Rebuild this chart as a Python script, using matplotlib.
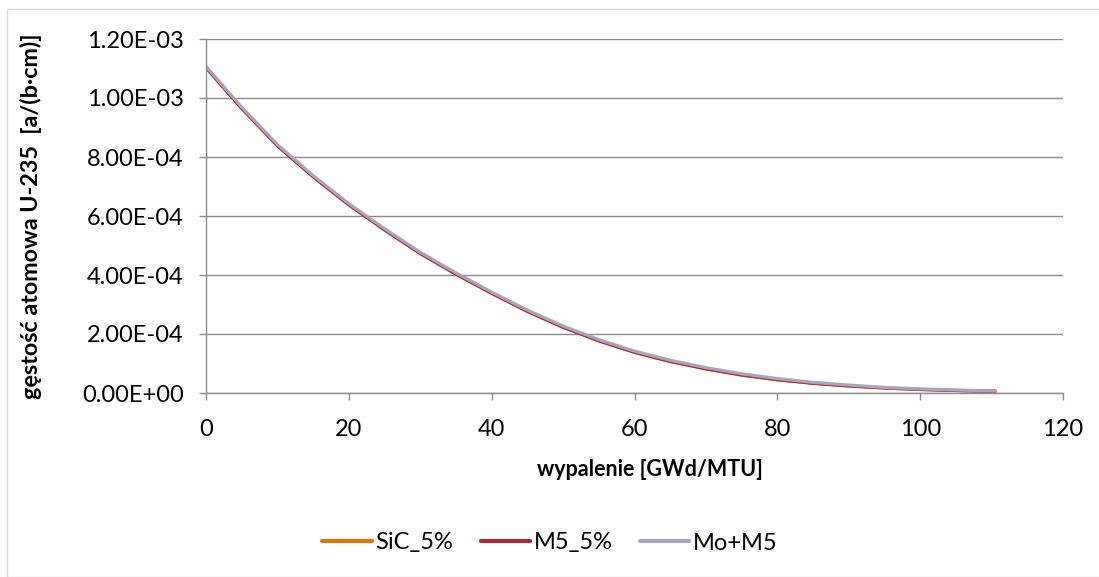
import matplotlib
matplotlib.use("Agg")
import matplotlib.pyplot as plt
from matplotlib.patches import Rectangle

burnup = [0, 5, 10, 15, 20, 25, 30, 35, 40, 45, 50, 55, 60, 65, 70, 75, 80, 85, 90, 95, 100, 105, 110.5]
sic_5 = [1.103e-3, 9.65e-4, 8.38e-4, 7.33e-4, 6.38e-4, 5.53e-4, 4.73e-4, 4.03e-4, 3.38e-4, 2.77e-4,
         2.23e-4, 1.77e-4, 1.38e-4, 1.07e-4, 8.2e-5, 6.1e-5, 4.5e-5, 3.3e-5, 2.4e-5, 1.7e-5, 1.2e-5, 8.5e-6, 6e-6]
m5_5 = [1.103e-3, 9.65e-4, 8.38e-4, 7.33e-4, 6.38e-4, 5.53e-4, 4.73e-4, 4.03e-4, 3.38e-4, 2.77e-4,
        2.23e-4, 1.77e-4, 1.38e-4, 1.07e-4, 8.2e-5, 6.1e-5, 4.5e-5, 3.3e-5, 2.4e-5, 1.7e-5, 1.2e-5, 8.5e-6, 6e-6]
mo_m5 = [1.107e-3, 9.69e-4, 8.42e-4, 7.37e-4, 6.42e-4, 5.57e-4, 4.77e-4, 4.07e-4, 3.42e-4, 2.81e-4,
         2.27e-4, 1.81e-4, 1.42e-4, 1.11e-4, 8.6e-5, 6.5e-5, 4.9e-5, 3.6e-5, 2.7e-5, 1.9e-5, 1.4e-5, 1.0e-5, 7e-6]
series_names = ["SiC_5%", "M5_5%", "Mo+M5"]
colors = ["#D57514", "#A52936", "#ABA5BC"]
xticks = [0, 20, 40, 60, 80, 100, 120]
yticks = [0, 2e-4, 4e-4, 6e-4, 8e-4, 1.0e-3, 1.2e-3]
ytick_labels = ["0.00E+00", "2.00E-04", "4.00E-04", "6.00E-04", "8.00E-04", "1.00E-03", "1.20E-03"]

plt.rcParams['font.family'] = ['Lato', 'DejaVu Sans']

fig = plt.figure(figsize=(10.99, 5.77), dpi=100)
ax = fig.add_axes([206/1099, 1-393/577, (1063-206)/1099, (393-39)/577])

for ys, name, c in zip([sic_5, m5_5, mo_m5], series_names, colors):
    ax.plot(burnup, ys, color=c, lw=2.3, label=name, solid_capstyle='round')

ax.set_xlim(0, 120)
ax.set_ylim(0, 1.2e-3)
ax.set_xticks(xticks)
ax.set_xticklabels([str(v) for v in xticks], fontsize=17)
ax.set_yticks(yticks)
ax.set_yticklabels(ytick_labels, fontsize=17)
ax.grid(axis='y', color='#8C8C8C', lw=1)
ax.set_axisbelow(True)
for s in ['top', 'right']:
    ax.spines[s].set_visible(False)
for s in ['left', 'bottom']:
    ax.spines[s].set_color('#8C8C8C')
    ax.spines[s].set_linewidth(1)
ax.tick_params(axis='both', direction='out', length=5, color='#8C8C8C', width=1)
ax.tick_params(axis='y', pad=11)
ax.tick_params(axis='x', pad=14)

fig.text(650/1099, 1-470/577, "wypalenie [GWd/MTU]", ha='center', va='center',
         fontsize=15.5, fontweight='bold')
fig.text(31/1099, 1-216/577, "gęstość atomowa U-235  [a/(b·cm)]", ha='center', va='center',
         rotation=90, fontsize=16.8, fontweight='bold')

leg = fig.legend(loc='center', bbox_to_anchor=(550/1099, 1-543/577), ncol=3, frameon=False,
                 fontsize=17, handlelength=2.1, columnspacing=1.15, handletextpad=0.15)
for h in leg.get_lines():
    h.set_linewidth(3)

fig.patches.append(Rectangle((7/1099, 0), 1.0, 1-9/577, transform=fig.transFigure,
                             fill=False, edgecolor='#D9D9D9', lw=1))

fig.savefig("out.png", dpi=100)
